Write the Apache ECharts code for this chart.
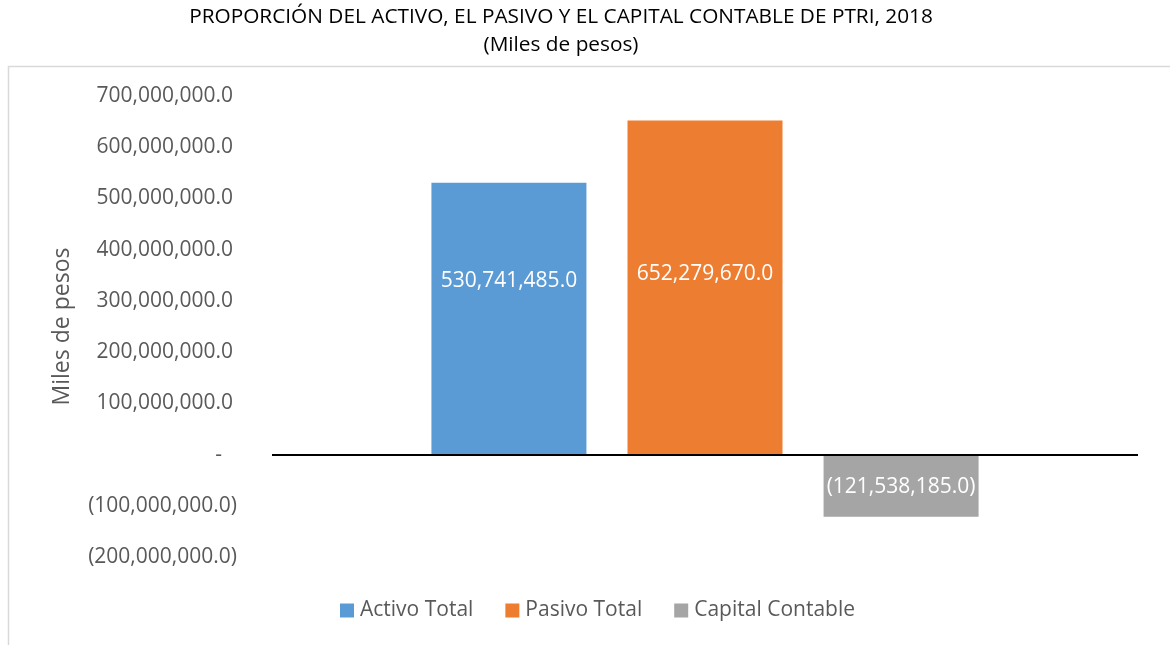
<!DOCTYPE html>
<html>
<head>
<meta charset="utf-8">
<script src="https://cdn.jsdelivr.net/npm/echarts@6/dist/echarts.min.js"></script>
<style>
  html, body { margin: 0; padding: 0; background: #fff; }
  #chart { width: 1170px; height: 645px; }
</style>
</head>
<body>
<div id="chart"></div>
<script>
// datos del grafico
var categorias = ['2018'];
var nombresSeries = ['Activo Total', 'Pasivo Total', 'Capital Contable'];
var valores = [530741485.0, 652279670.0, -121538185.0];
var colores = ['#5B9BD5', '#ED7D31', '#A5A5A5'];
// desplazamiento vertical de cada etiqueta dentro de la barra
var desplazamientos = [[0, -38], [0, -13], [0, 1]];

function formatoMiles(v) {
    var abs = Math.abs(v);
    var s = abs.toFixed(1);
    var partes = s.split('.');
    partes[0] = partes[0].replace(/\B(?=(\d{3})+(?!\d))/g, ',');
    s = partes.join('.');
    return v < 0 ? '(' + s + ')' : s;
}

function formatoEje(v) {
    if (v === 0) return '{z|-}';
    if (v < 0) return '{n|' + formatoMiles(v) + '}';
    return '{p|' + formatoMiles(v) + '}';
}

var fuente = 'Open Sans';
var series = [];
for (var i = 0; i < nombresSeries.length; i++) {
    series.push({
        name: nombresSeries[i],
        type: 'bar',
        data: [valores[i]],
        barWidth: 155,
        barGap: '26.5%',
        itemStyle: { color: colores[i] },
        label: {
            show: true,
            position: 'inside',
            offset: desplazamientos[i],
            color: '#ffffff',
            fontFamily: fuente,
            fontSize: 21,
            formatter: function (p) { return formatoMiles(p.value); }
        }
    });
}

var chart = echarts.init(document.getElementById('chart'), null, { renderer: 'canvas' });
var option = {
    backgroundColor: '#ffffff',
    animation: false,
    title: {
        text: 'PROPORCIÓN DEL ACTIVO, EL PASIVO Y EL CAPITAL CONTABLE DE PTRI, 2018\n(Miles de pesos)',
        left: 561,
        textAlign: 'center',
        top: 3,
        padding: 0,
        textStyle: {
            fontFamily: fuente,
            fontSize: 20.8,
            fontWeight: 'normal',
            color: '#000000',
            lineHeight: 28
        }
    },
    graphic: [{
        type: 'rect',
        shape: { x: 8.5, y: 66.5, width: 1300, height: 700 },
        style: { fill: 'none', stroke: '#D9D9D9', lineWidth: 1.5 },
        silent: true
    }],
    legend: {
        data: nombresSeries,
        left: 335,
        top: 595,
        itemWidth: 14,
        itemHeight: 14,
        itemGap: 32,
        icon: 'rect',
        textStyle: { fontFamily: fuente, fontSize: 21, color: '#595959', padding: [0, 0, 0, 1] }
    },
    grid: { left: 272, right: 32, top: 96, bottom: 88 },
    xAxis: {
        type: 'category',
        data: categorias,
        axisLine: { show: false },
        axisTick: { show: false },
        axisLabel: { show: false }
    },
    yAxis: {
        type: 'value',
        min: -200000000,
        max: 700000000,
        interval: 100000000,
        name: 'Miles de pesos',
        nameLocation: 'middle',
        nameGap: 198,
        nameTextStyle: { fontFamily: fuente, fontSize: 23, color: '#595959' },
        axisLine: { show: false },
        axisTick: { show: false },
        splitLine: { show: false },
        axisLabel: {
            margin: 35,
            formatter: formatoEje,
            rich: {
                p: { fontFamily: fuente, fontSize: 21, color: '#595959', padding: [0, 4, 0, 0] },
                n: { fontFamily: fuente, fontSize: 21, color: '#595959' },
                z: { fontFamily: fuente, fontSize: 21, color: '#595959', padding: [0, 15, 0, 0] }
            }
        }
    },
    series: series.concat([{
        type: 'line',
        data: [0],
        symbol: 'none',
        silent: true,
        markLine: {
            silent: true,
            symbol: 'none',
            label: { show: false },
            lineStyle: { color: '#000000', width: 2, type: 'solid' },
            data: [{ yAxis: 0 }]
        }
    }])
};
chart.setOption(option);
</script>
</body>
</html>
